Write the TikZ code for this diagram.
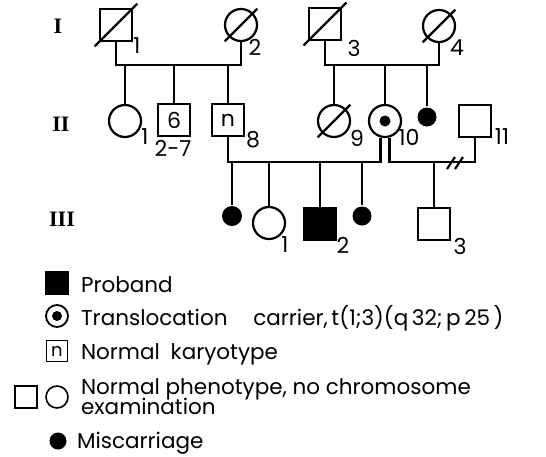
\documentclass[tikz,border=0pt]{standalone}
\usepackage{fontspec}
\newfontfamily\labfont{Poppins}
\newfontfamily\genfont{Liberation Serif}
\usetikzlibrary{calc}
\begin{document}
\begin{tikzpicture}[x=1pt,y=-1pt,line width=2.2pt,
  sq/.style={draw,rectangle,minimum size=32pt,inner sep=0pt},
  ci/.style={draw,circle,minimum size=32pt,inner sep=0pt},
  mc/.style={fill,circle,minimum size=19pt,inner sep=0pt},
  lab/.style={font=\labfont\fontsize{22}{22}\selectfont,inner sep=0pt},
  gen/.style={font=\genfont\bfseries\fontsize{22}{22}\selectfont,inner sep=0pt},
  leg/.style={font=\labfont\fontsize{21.5}{16}\selectfont,anchor=base west,inner sep=0pt}]
\useasboundingbox (0,0) rectangle (546,456);
% generation labels
\node[gen] (g1) at (58,26) {I};
\node[gen] (g2) at (61,124) {II};
\node[gen] (g3) at (62,219) {III};
% generation I
\node[sq] (i1) at (116,25) {};
\node[ci] (i2) at (241,25) {};
\node[sq] (i3) at (325,24) {};
\node[ci] (i4) at (439,26) {};
\foreach \n in {i1,i3}
  \draw ($(\n.center)!1.25!(\n.south west)$) -- ($(\n.center)!1.25!(\n.north east)$);
\foreach \n in {i2,i4}
  \draw ($(\n.center)!1.35!(\n.south west)$) -- ($(\n.center)!1.35!(\n.north east)$);
\node[lab] (li1) at (137,46) {1};
\node[lab] (li2) at (255,47) {2};
\node[lab] (li3) at (354,48) {3};
\node[lab] (li4) at (457,48) {4};
% generation II
\node[ci] (ii1) at (125,121) {};
\node[sq,lab,minimum size=32pt] (ii6) at (174,120) {6};
\node[sq,lab,minimum size=32pt] (ii8) at (228,120) {n};
\node[ci] (ii9) at (334,121) {};
\draw ($(ii9.center)!1.35!(ii9.south west)$) -- ($(ii9.center)!1.35!(ii9.north east)$);
\node[ci] (ii10) at (385,121) {};
\fill (ii10.center) circle (5.5);
\node[mc] (mc1) at (427,117) {};
\node[sq] (ii11) at (475,121) {};
\node[lab] (lii1) at (145,137) {1};
\node[lab] (lii6) at (173,148) {2-7};
\node[lab] (lii8) at (253,140) {8};
\node[lab] (lii9) at (357,138) {9};
\node[lab] (lii10) at (409,137) {10};
\node[lab] (lii11) at (502,137) {11};
% matings I
\coordinate (m1) at (178,65);
\coordinate (m2) at (380,65);
\draw (i1.south) |- (m1) -| (i2.south);
\draw (i3.south) |- (m2) -| (i4.south);
\foreach \n in {ii1,ii6,ii8}
  \draw (\n.north) -- (\n.north |- m1);
\foreach \n in {ii9,ii10,mc1}
  \draw (\n.north) -- (\n.north |- m2);
% generation III
\node[mc,minimum size=20pt] (iii0) at (232,216) {};
\node[ci] (iii1) at (269,223) {};
\node[sq,fill] (iii2) at (320,224) {};
\node[mc,minimum size=19pt] (iii4) at (362,216) {};
\node[sq] (iii3) at (434,224) {};
\node[lab] (liii1) at (285,245) {1};
\node[lab] (liii2) at (343,245) {2};
\node[lab] (liii3) at (460,246) {3};
% matings II
\coordinate (m3) at (300,162);
\coordinate (m4) at (430,162);
\draw (ii8.south) |- (m3) -| (ii10.255);
\draw (ii10.285) |- (m4) -| (ii11.south);
\draw (447,169) -- (455,157);
\draw (455,169) -- (463,157);
\foreach \n in {iii0,iii1,iii2,iii4}
  \draw (\n.north) -- (\n.north |- m3);
\draw (iii3.north) -- (iii3.north |- m4);
% legend
\node[sq,fill,minimum size=22pt] (k1) at (57,283) {};
\node[leg] (t1) at (80,292) {Proband};
\node[ci,minimum size=22pt,line width=1.8pt] (k2) at (57,316) {};
\fill (k2.center) circle (5);
\node[leg] (t2) at (80,325) {Translocation\hspace{1.2em}carrier,\,t(1;3)(q\,32;\,p\,25\,)};
\node[sq,minimum size=21pt,font=\labfont\fontsize{18}{18}\selectfont,line width=1.6pt] (k3) at (57,351) {n};
\node[leg] (t3) at (80,359) {Normal\hspace{0.5em}karyotype};
\node[sq,minimum size=22pt,line width=1.6pt] (k4) at (26,397) {};
\node[ci,minimum size=22pt,line width=1.6pt] (k5) at (57,397) {};
\node[leg] (t4) at (80,394) {Normal phenotype, no chromosome};
\node[leg] (t5) at (80,414) {examination};
\node[mc,minimum size=17pt] (k6) at (58,441) {};
\node[leg] (t6) at (76,448) {Miscarriage};
\end{tikzpicture}
\end{document}
